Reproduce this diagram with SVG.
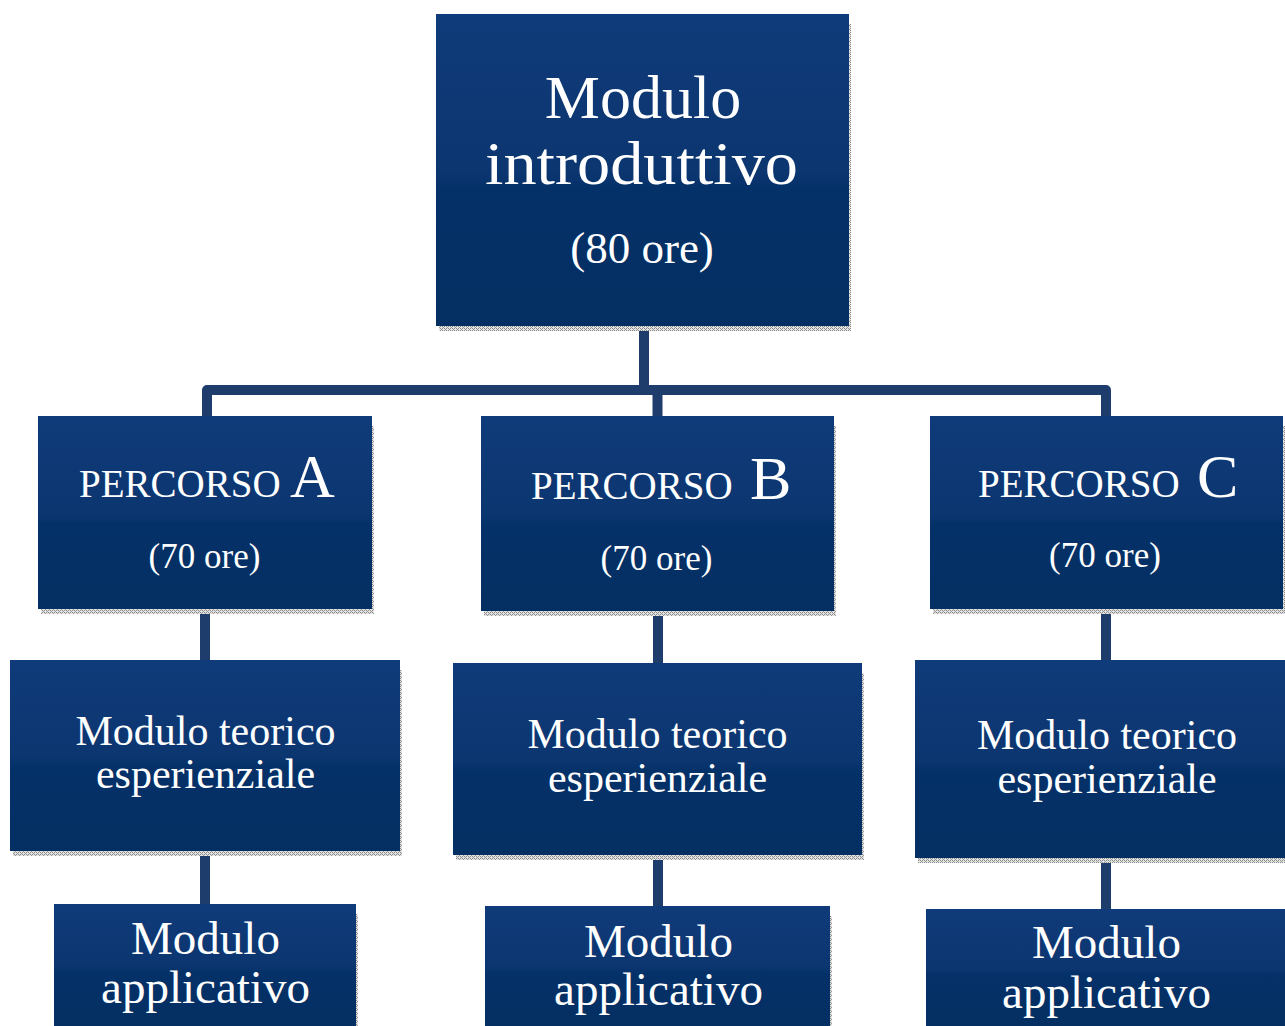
<svg xmlns="http://www.w3.org/2000/svg" width="1285" height="1026" viewBox="0 0 1285 1026">
<style>
.box{fill:url(#g)}
.sh{fill:url(#hatch)}
.t{fill:#ffffff;font-family:"Liberation Serif","Times New Roman",serif;text-anchor:middle}
.ts{fill:#ffffff;font-family:"Liberation Serif","Times New Roman",serif}
.con{fill:none;stroke:#1e3c6c;stroke-width:10;stroke-linejoin:round}
</style>
<defs>
<linearGradient id="g" x1="0" y1="0" x2="0" y2="1">
<stop offset="0" stop-color="#0f3b7a"/>
<stop offset="0.5" stop-color="#0c3670"/>
<stop offset="0.56" stop-color="#053169"/>
<stop offset="1" stop-color="#032f62"/>
</linearGradient>
<pattern id="hatch" width="4" height="4" patternUnits="userSpaceOnUse">
<rect width="4" height="4" fill="#e2e2e2"/>
<rect x="0" y="0" width="1" height="1" fill="#8c8c8c"/>
<rect x="2" y="0" width="1" height="1" fill="#8c8c8c"/>
<rect x="1" y="1" width="1" height="1" fill="#9a9a9a"/>
<rect x="0" y="2" width="1" height="1" fill="#8c8c8c"/>
<rect x="2" y="2" width="1" height="1" fill="#8c8c8c"/>
<rect x="3" y="3" width="1" height="1" fill="#9a9a9a"/>
</pattern>
</defs>

<g id="connectors">
<path class="con" d="M644 326 V390"/>
<path class="con" d="M207 416 V390 H1106 V416"/>
<path class="con" d="M657.5 390 V416"/>
<path class="con" d="M205 609 V660"/>
<path class="con" d="M658 611 V663"/>
<path class="con" d="M1106 609 V660"/>
<path class="con" d="M205 851 V904"/>
<path class="con" d="M658 855 V906"/>
<path class="con" d="M1106 858 V909"/>
</g>

<g id="node-intro">
<rect class="sh" x="439" y="326" width="412" height="5"/>
<rect class="sh" x="849" y="24" width="2" height="302"/>
<rect class="box" x="436" y="14" width="413" height="312"/>
<text class="t" x="643" y="118" font-size="62">Modulo</text>
<text class="t" x="641.5" y="184" font-size="62" textLength="313" lengthAdjust="spacingAndGlyphs">introduttivo</text>
<text class="t" x="642" y="263" font-size="45">(80 ore)</text>
</g>

<g id="node-percorso-a">
<rect class="sh" x="41" y="609" width="333" height="5"/>
<rect class="sh" x="372" y="426" width="2" height="183"/>
<rect class="box" x="38" y="416" width="334" height="193"/>
<text class="ts" x="79" y="497" font-size="39">PERCORSO</text>
<text class="ts" x="290" y="497" font-size="62">A</text>
<text class="t" x="204.5" y="568" font-size="35">(70 ore)</text>
</g>

<g id="node-percorso-b">
<rect class="sh" x="484" y="611" width="352" height="5"/>
<rect class="sh" x="834" y="426" width="2" height="185"/>
<rect class="box" x="481" y="416" width="353" height="195"/>
<text class="ts" x="531" y="499" font-size="39">PERCORSO</text>
<text class="ts" x="750" y="499" font-size="62">B</text>
<text class="t" x="656.5" y="570" font-size="35">(70 ore)</text>
</g>

<g id="node-percorso-c">
<rect class="sh" x="933" y="609" width="352" height="5"/>
<rect class="sh" x="1283" y="426" width="2" height="183"/>
<rect class="box" x="930" y="416" width="353" height="193"/>
<text class="ts" x="978" y="497" font-size="39">PERCORSO</text>
<text class="ts" x="1197" y="497" font-size="62">C</text>
<text class="t" x="1105" y="567" font-size="35">(70 ore)</text>
</g>

<g id="node-teorico-a">
<rect class="sh" x="13" y="851" width="389" height="5"/>
<rect class="sh" x="400" y="670" width="2" height="181"/>
<rect class="box" x="10" y="660" width="390" height="191"/>
<text class="t" x="205.5" y="745" font-size="42">Modulo teorico</text>
<text class="t" x="205.5" y="788" font-size="42">esperienziale</text>
</g>

<g id="node-teorico-b">
<rect class="sh" x="456" y="855" width="408" height="5"/>
<rect class="sh" x="862" y="673" width="2" height="182"/>
<rect class="box" x="453" y="663" width="409" height="192"/>
<text class="t" x="657.5" y="748" font-size="42">Modulo teorico</text>
<text class="t" x="657.5" y="792" font-size="42">esperienziale</text>
</g>

<g id="node-teorico-c">
<rect class="sh" x="918" y="858" width="367" height="5"/>
<rect class="box" x="915" y="660" width="370" height="198"/>
<text class="t" x="1107" y="749" font-size="42">Modulo teorico</text>
<text class="t" x="1107" y="793" font-size="42">esperienziale</text>
</g>

<g id="node-applicativo-a">
<rect class="sh" x="356" y="914" width="2" height="112"/>
<rect class="box" x="54" y="904" width="302" height="122"/>
<text class="t" x="205.5" y="954" font-size="47">Modulo</text>
<text class="t" x="205.5" y="1003" font-size="47">applicativo</text>
</g>

<g id="node-applicativo-b">
<rect class="sh" x="830" y="916" width="2" height="110"/>
<rect class="box" x="485" y="906" width="345" height="120"/>
<text class="t" x="658.5" y="957" font-size="47">Modulo</text>
<text class="t" x="658.5" y="1005" font-size="47">applicativo</text>
</g>

<g id="node-applicativo-c">
<rect class="box" x="926" y="909" width="359" height="117"/>
<text class="t" x="1106.5" y="958" font-size="47">Modulo</text>
<text class="t" x="1106.5" y="1008" font-size="47">applicativo</text>
</g>
</svg>
